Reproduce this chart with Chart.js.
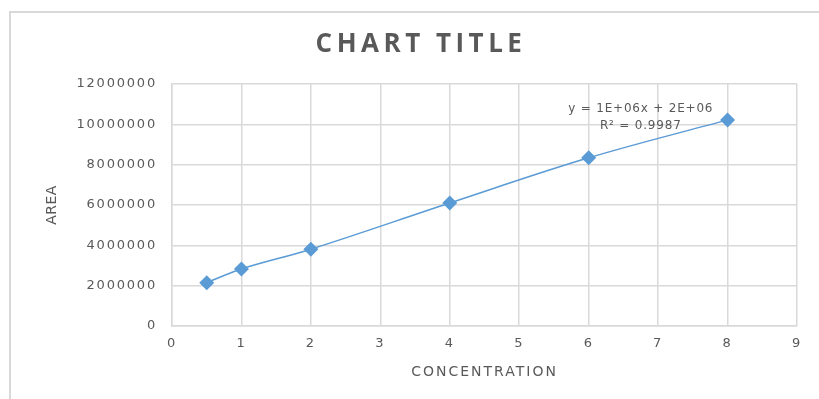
<!DOCTYPE html>
<html>
<head>
<meta charset="utf-8">
<script src="https://cdn.jsdelivr.net/npm/chart.js@4.4.1/dist/chart.umd.min.js"></script>
<style>
  html, body { margin: 0; padding: 0; background: #fff; overflow: hidden; }
  #wrap { position: relative; width: 819px; height: 399px; }
  #frame { position: absolute; left: 9px; top: 11px; width: 820px; height: 400px;
           border-top: 2px solid #d9d9d9; border-left: 2px solid #d9d9d9; }
  canvas { position: absolute; left: 0; top: 0; }
</style>
</head>
<body>
<div id="wrap"><div id="frame"></div><canvas id="c" width="819" height="399"></canvas></div>
<script>
// Calibration data
const chartTitle = 'CHART TITLE';
const xAxisTitle = 'CONCENTRATION';
const yAxisTitle = 'AREA';
const concentration = [0.5, 1, 2, 4, 6, 8];
const area = [2150000, 2830000, 3810000, 6100000, 8340000, 10220000];
const xTicks = [0, 1, 2, 3, 4, 5, 6, 7, 8, 9];
const yTicks = [0, 2000000, 4000000, 6000000, 8000000, 10000000, 12000000];
const trendLabel = ['y = 1E+06x + 2E+06', 'R\u00B2 = 0.9987'];

const GREY = '#595959';
const GRID = '#d9d9d9';
const BLUE = '#5b9bd5';
const FONT = '"DejaVu Sans", "Open Sans", sans-serif';
const TITLE_FONT = '"Open Sans", "DejaVu Sans", sans-serif';

// Tracking for tick labels; axis titles get their own spacing
const textStyle = {
  id: 'textStyle',
  beforeDraw(chart) { chart.ctx.letterSpacing = '1.8px'; },
  afterLayout(chart) {
    const spacing = { x: '2px', y: '0.5px' };
    Object.keys(spacing).forEach(id => {
      const s = chart.scales[id];
      if (s && !s._titleSpacing) {
        const base = s.drawTitle;
        s.drawTitle = function () {
          this.ctx.save();
          this.ctx.letterSpacing = spacing[id];
          base.call(this);
          this.ctx.restore();
        };
        s._titleSpacing = true;
      }
    });
  },
  afterDraw(chart) { chart.ctx.letterSpacing = '0px'; }
};

// Chart heading and trendline equation
const annotations = {
  id: 'annotations',
  afterDraw(chart) {
    const ctx = chart.ctx;
    const { x, y } = chart.scales;
    ctx.save();
    ctx.fillStyle = GREY;
    ctx.textAlign = 'center';
    ctx.textBaseline = 'middle';
    ctx.letterSpacing = '4.5px';
    ctx.font = 'bold 26px ' + TITLE_FONT;
    ctx.fillText(chartTitle, 421, 45);
    ctx.letterSpacing = '0.8px';
    ctx.font = '12px ' + FONT;
    const cx = x.getPixelForValue(6.75);
    const cy = y.getPixelForValue(10750000);
    trendLabel.forEach((t, i) => ctx.fillText(t, cx, cy + i * 17));
    ctx.restore();
  }
};

new Chart(document.getElementById('c'), {
  type: 'scatter',
  data: {
    datasets: [{
      label: 'AREA',
      data: concentration.map((c, i) => ({ x: c, y: area[i] })),
      showLine: true,
      tension: 0.35,
      borderColor: BLUE,
      borderWidth: 1.5,
      backgroundColor: BLUE,
      pointStyle: 'rectRot',
      pointRadius: 7.5,
      pointHoverRadius: 7.5,
      pointBorderWidth: 0
    }]
  },
  options: {
    responsive: false,
    animation: false,
    devicePixelRatio: 1,
    layout: { padding: { left: 0, top: 84, right: 22, bottom: 0 } },
    plugins: { legend: { display: false }, tooltip: { enabled: false }, title: { display: false } },
    scales: {
      x: {
        type: 'linear', min: 0, max: 9,
        afterBuildTicks: s => { s.ticks = xTicks.map(v => ({ value: v })); },
        afterFit: s => { s.height = 73; },
        grid: { color: GRID, lineWidth: 1.5, drawTicks: false },
        border: { color: GRID, width: 1.5 },
        ticks: { color: GREY, font: { family: FONT, size: 13 }, padding: 10, callback: v => String(v) },
        title: { display: true, text: xAxisTitle, color: GREY, font: { family: FONT, size: 14 },
                 padding: { top: 0, bottom: 18 } }
      },
      y: {
        type: 'linear', min: 0, max: 12000000,
        afterBuildTicks: s => { s.ticks = yTicks.map(v => ({ value: v })); },
        afterFit: s => { s.width = 172; },
        grid: { color: GRID, lineWidth: 1.5, drawTicks: false },
        border: { color: GRID, width: 1.5 },
        ticks: { color: GREY, font: { family: FONT, size: 13 }, padding: 15, callback: v => String(v) },
        title: { display: true, text: yAxisTitle, color: GREY, font: { family: FONT, size: 14 },
                 padding: { top: 44, bottom: 0 } }
      }
    }
  },
  plugins: [textStyle, annotations]
});
</script>
</body>
</html>
